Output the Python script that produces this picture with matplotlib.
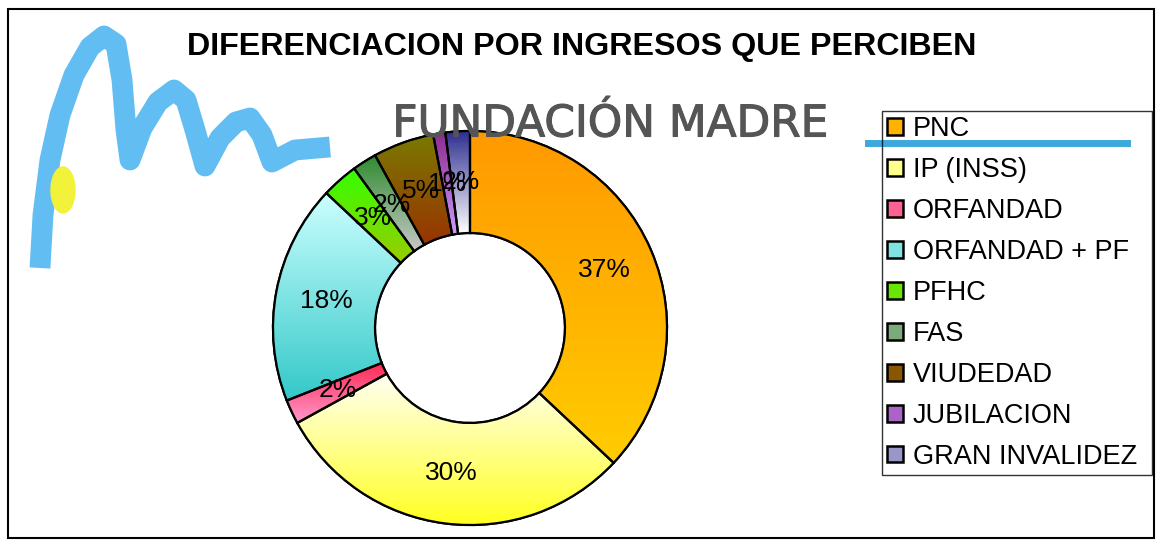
import numpy as np
import matplotlib
matplotlib.use("Agg")
import matplotlib.pyplot as plt
import matplotlib.patches as mpatches
import matplotlib.patheffects as pe
from matplotlib.colors import to_rgb
from matplotlib.patches import Ellipse, Rectangle

# ---- data ----
categories = ["PNC", "IP (INSS)", "ORFANDAD", "ORFANDAD + PF", "PFHC", "FAS",
              "VIUDEDAD", "JUBILACION", "GRAN INVALIDEZ"]
values = [37, 30, 2, 18, 3, 2, 5, 1, 2]
top_colors = ["#FF9900", "#FFFFF4", "#FF2A55", "#CCFFFF", "#33FF00", "#2E8B2E",
              "#7A7A00", "#8E2A8E", "#2E2E90"]
bottom_colors = ["#FFCC00", "#FFFF20", "#FF99CC", "#33C8C8", "#99CC00", "#C8C8C8",
                 "#993300", "#CC99FF", "#FFFFFF"]
title = "DIFERENCIACION POR INGRESOS QUE PERCIBEN"

W, H = 1158, 548
fig = plt.figure(figsize=(W / 100, H / 100), dpi=100)
fig.patch.set_facecolor("white")

def fx(x):
    return x / W
def fy(y):
    return 1 - y / H

# ---- background logo (decoration) ----
logo_x = [40, 43, 50, 60, 74, 90, 104, 116, 122, 126, 130, 142, 158, 174, 186, 195, 205,
          220, 236, 250, 262, 272, 295, 330]
logo_y = [268, 215, 160, 115, 75, 47, 36, 44, 80, 130, 160, 128, 102, 90, 100, 130, 166,
          138, 122, 118, 135, 162, 150, 147]
fig.add_artist(plt.Line2D([fx(v) for v in logo_x], [fy(v) for v in logo_y],
                          color="#62BDF2", lw=15, solid_joinstyle="round",
                          solid_capstyle="butt", zorder=0))
fig.add_artist(Ellipse((fx(63), fy(190)), 24 / W, 46 / H, color="#F2F23A", zorder=0.5))
fig.add_artist(plt.Line2D([fx(868), fx(1127)], [fy(143), fy(143)],
                          color="#3EA8DC", lw=5, zorder=0.5))
fig.text(fx(610), fy(124), "FUNDACIÓN MADRE", ha="center", va="center",
         fontsize=31.5, color="#555555", family="DejaVu Sans", zorder=0.5,
         path_effects=[pe.withStroke(linewidth=0.8, foreground="#555555")])

# frame
fig.add_artist(Rectangle((fx(8), fy(538)), (1154 - 8) / W, (538 - 9) / H,
                         fill=False, edgecolor="black", lw=1.5, zorder=5))

# title
fig.text(fx(582), fy(47), title, ha="center", va="center", fontsize=23.2,
         fontweight="bold", family="Liberation Sans")

# ---- donut ----
cx, cy, R = 470, 328, 197
lim = 1.05
half = lim * R
ax = fig.add_axes([fx(cx - half), fy(cy + half), 2 * half / W, 2 * half / H])
ax.patch.set_alpha(0)

inner = 95 / R
wedges, texts, autotexts = ax.pie(
    values, startangle=90, counterclock=False, radius=1.0,
    colors=[
        tuple((np.array(to_rgb(a)) + np.array(to_rgb(b))) / 2)
        for a, b in zip(top_colors, bottom_colors)
    ],
    autopct="%1.0f%%", pctdistance=(1 + inner) / 2,
    wedgeprops=dict(width=1 - inner, edgecolor="black", linewidth=1.6),
    textprops=dict(fontsize=19, family="Liberation Sans", color="black"))

for w, c0, c1 in zip(wedges, top_colors, bottom_colors):
    ext = w.get_path().get_extents()
    a = np.array(to_rgb(c0))
    b = np.array(to_rgb(c1))
    t = np.linspace(0, 1, 256)[:, None, None]
    grad = a[None, None, :] * (1 - t) + b[None, None, :] * t
    im = ax.imshow(grad, extent=(ext.x0, ext.x1, ext.y0, ext.y1), origin="upper",
                   aspect="auto", zorder=1.5, interpolation="bilinear")
    im.set_clip_path(w)
    edge = mpatches.Wedge(w.center, w.r, w.theta1, w.theta2, width=w.width,
                          fill=False, edgecolor="black", linewidth=1.6, zorder=3)
    ax.add_patch(edge)
for t_ in autotexts:
    t_.set_zorder(4)
ax.set_xlim(-lim, lim)
ax.set_ylim(-lim, lim)
ax.set_aspect("auto")

# legend
handles = [mpatches.Patch(facecolor=w.get_facecolor(), edgecolor="black", lw=1.8)
           for w in wedges]
leg = fig.legend(handles, categories, loc="upper left",
                 bbox_to_anchor=(fx(882), fy(476), (1152 - 882) / W, (476 - 111) / H),
                 mode="expand", prop=dict(family="Liberation Sans", size=19.5),
                 frameon=True, fancybox=False, handlelength=0.58, handleheight=0.58,
                 handletextpad=0.35, labelspacing=0.55, borderpad=0.2,
                 borderaxespad=0)
leg.get_frame().set_facecolor("none")
leg.get_frame().set_edgecolor("black")
leg.get_frame().set_linewidth(1.0)

fig.savefig("out.png", dpi=100)
